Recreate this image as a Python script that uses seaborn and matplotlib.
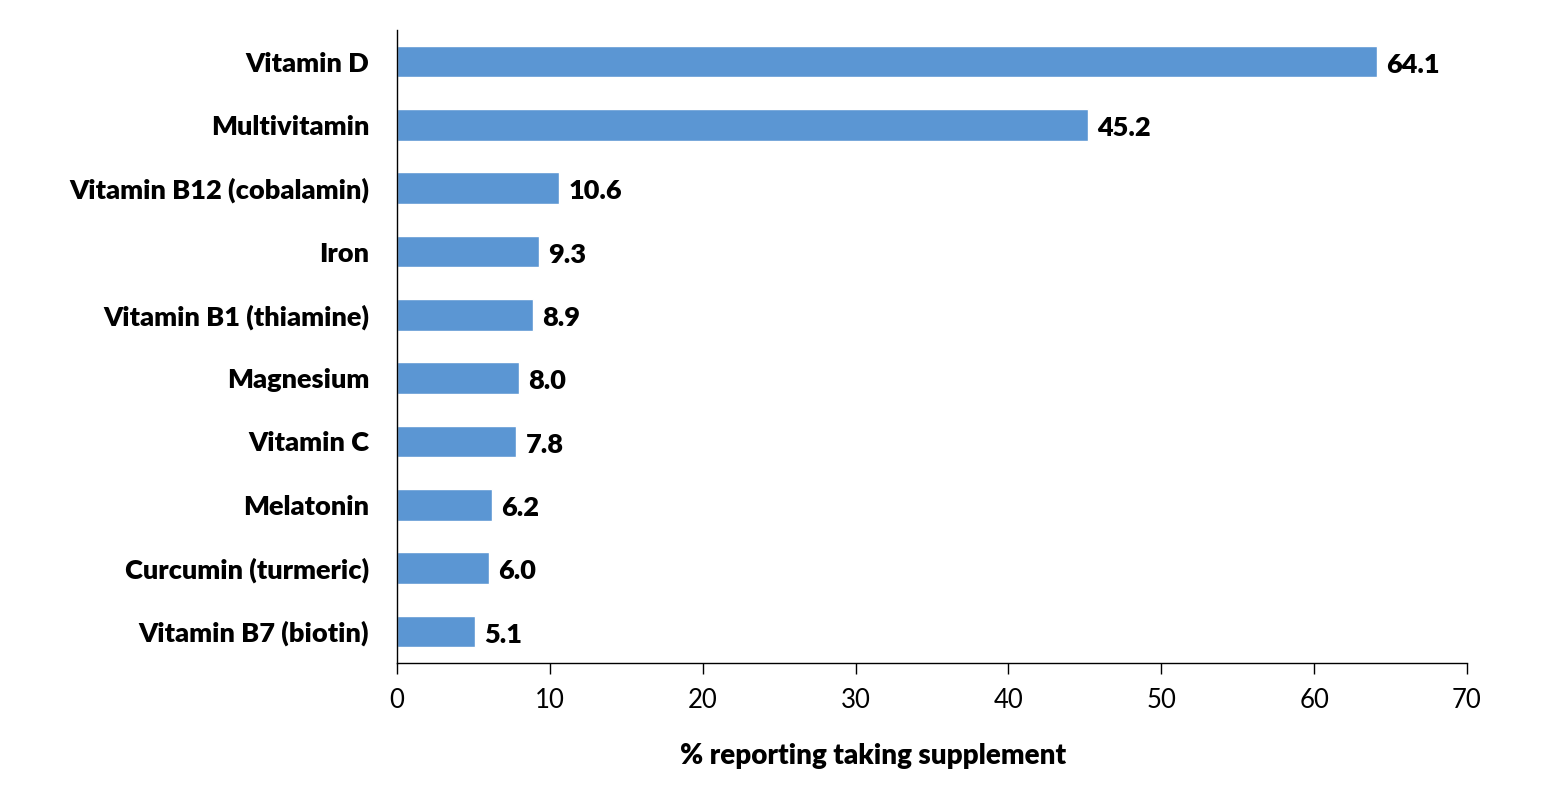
import pandas as pd
import numpy as np
import seaborn as sns
import matplotlib.pyplot as plt

# Data
supplements = ['Vitamin D', 'Multivitamin', 'Vitamin B12 (cobalamin)', 'Iron',
               'Vitamin B1 (thiamine)', 'Magnesium', 'Vitamin C', 'Melatonin',
               'Curcumin (turmeric)', 'Vitamin B7 (biotin)']
percent = [64.1, 45.2, 10.6, 9.3, 8.9, 8.0, 7.8, 6.2, 6.0, 5.1]

df = pd.DataFrame({'supplement': supplements, 'percent': percent})

sns.set_style('white')
plt.rcParams['font.family'] = ['Lato', 'DejaVu Sans']

fig = plt.figure(figsize=(15.58, 7.98), dpi=100)
ax = fig.add_axes([397 / 1558, 1 - 663 / 798, (1467 - 397) / 1558, (663 - 30) / 798])

# Draw bars
sns.barplot(data=df, x='percent', y='supplement', color='#5B96D3',
            saturation=1, width=0.5, ax=ax)

# Value labels
for i, v in enumerate(percent):
    ax.text(v + 0.6, i + 0.05, '{:.1f}'.format(v), va='center', ha='left',
            fontsize=19.5, fontweight='heavy', color='black')

ax.set_xlim(0, 70)
ax.set_ylim(9.5, -0.5)
ax.set_xticks(np.arange(0, 71, 10))
ax.tick_params(axis='x', direction='out', length=8, width=1, labelsize=18.5,
               pad=10, bottom=True, colors='black')
ax.tick_params(axis='y', length=0, pad=20, labelsize=19.5, labelcolor='black')
for lab in ax.get_yticklabels():
    lab.set_fontweight('heavy')

ax.set_xlabel('% reporting taking supplement', fontsize=20, fontweight='heavy',
              color='black')
ax.xaxis.set_label_coords((873 - 397) / 1070, -0.127)
ax.set_ylabel('')

# Spines
for s in ['top', 'right']:
    ax.spines[s].set_visible(False)
for s in ['left', 'bottom']:
    ax.spines[s].set_color('black')
    ax.spines[s].set_linewidth(1)

plt.savefig('out.png', dpi=100)
